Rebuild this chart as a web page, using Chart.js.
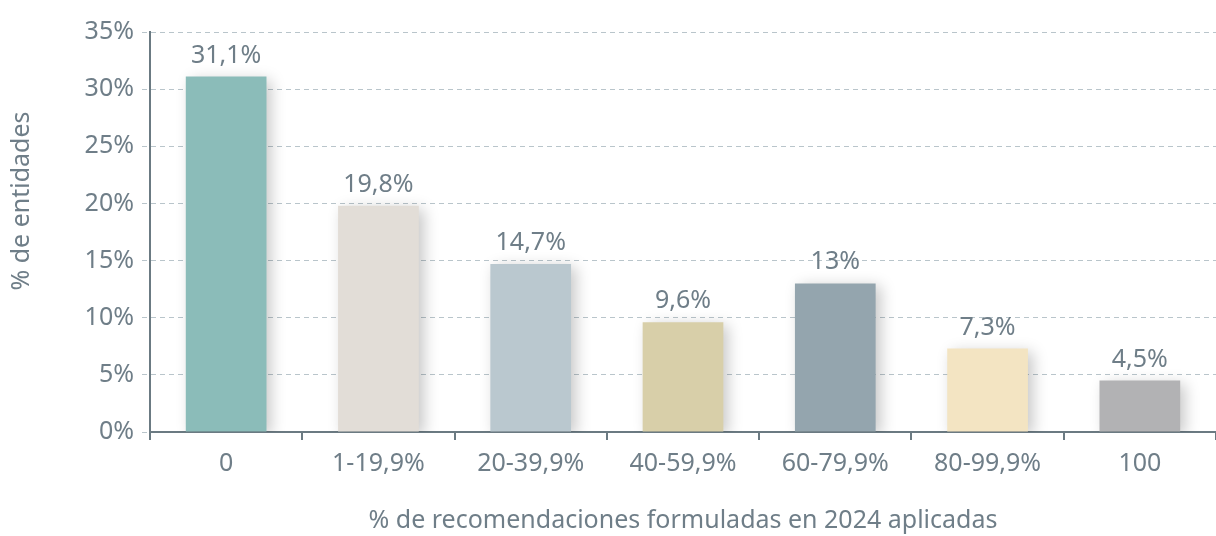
<!DOCTYPE html>
<html>
<head>
<meta charset="utf-8">
<script src="https://cdn.jsdelivr.net/npm/chart.js@4/dist/chart.umd.min.js"></script>
<style>
  html, body { margin: 0; padding: 0; background: #fff; }
  #wrap { width: 1216px; height: 536px; position: relative; }
</style>
</head>
<body>
<div id="wrap"><canvas id="chart"></canvas></div>
<script>
const categories = ["0", "1-19,9%", "20-39,9%", "40-59,9%", "60-79,9%", "80-99,9%", "100"];
const values = [31.1, 19.8, 14.7, 9.6, 13, 7.3, 4.5];
const barColors = ["#8bbcb9", "#e2ddd7", "#bac8cf", "#d8cfa9", "#94a5ae", "#f3e4c2", "#b2b2b4"];
const yTitle = "% de entidades";
const xTitle = "% de recomendaciones formuladas en 2024 aplicadas";

const textColor = "#6f7e88";
const axisColor = "#6b7a82";
const gridColor = "#b9c5cb";
const fontFamily = "'Noto Sans', 'Open Sans', sans-serif";
const fontSize = 25;

const fmt = (v) => String(v).replace(".", ",") + "%";

// soft drop shadow behind the bars
const barShadow = {
  id: "barShadow",
  beforeDatasetDraw(chart) {
    const ctx = chart.ctx;
    ctx.save();
    ctx.shadowColor = "rgba(0,0,0,0.22)";
    ctx.shadowBlur = 14;
    ctx.shadowOffsetX = 5;
    ctx.shadowOffsetY = 3;
  },
  afterDatasetDraw(chart) {
    chart.ctx.restore();
  }
};

// value labels above each bar
const valueLabels = {
  id: "valueLabels",
  afterDatasetsDraw(chart) {
    const ctx = chart.ctx;
    const meta = chart.getDatasetMeta(0);
    ctx.save();
    ctx.fillStyle = textColor;
    ctx.font = fontSize + "px " + fontFamily;
    ctx.textAlign = "center";
    ctx.textBaseline = "alphabetic";
    meta.data.forEach((bar, i) => {
      ctx.fillText(fmt(values[i]), bar.x, bar.y - 14);
    });
    ctx.restore();
  }
};

// vertical axis title, sitting a little above the plot's middle
const sideTitle = {
  id: "sideTitle",
  afterDraw(chart) {
    const ctx = chart.ctx;
    const area = chart.chartArea;
    ctx.save();
    ctx.translate(22, area.top + (area.bottom - area.top) / 2 - 31);
    ctx.rotate(-Math.PI / 2);
    ctx.fillStyle = textColor;
    ctx.font = fontSize + "px " + fontFamily;
    ctx.textAlign = "center";
    ctx.textBaseline = "middle";
    ctx.fillText(yTitle, 0, 0);
    ctx.restore();
  }
};

new Chart(document.getElementById("chart"), {
  type: "bar",
  data: {
    labels: categories,
    datasets: [{
      data: values,
      backgroundColor: barColors,
      borderWidth: 0,
      barPercentage: 0.53,
      categoryPercentage: 1
    }]
  },
  options: {
    responsive: true,
    maintainAspectRatio: false,
    animation: false,
    layout: { padding: { top: 32, right: 0, left: 0, bottom: 0 } },
    plugins: {
      legend: { display: false },
      tooltip: { enabled: false }
    },
    scales: {
      x: {
        afterFit(scale) { scale.height = 104; },
        border: { color: axisColor, width: 2 },
        grid: {
          offset: true,
          drawOnChartArea: false,
          drawTicks: true,
          tickLength: 8,
          color: axisColor,
          lineWidth: 2
        },
        ticks: {
          color: textColor,
          font: { family: fontFamily, size: fontSize },
          padding: 9
        },
        title: {
          display: true,
          text: xTitle,
          color: textColor,
          font: { family: fontFamily, size: fontSize },
          padding: { top: 20, bottom: 0 }
        }
      },
      y: {
        min: 0,
        max: 35,
        afterFit(scale) { scale.width = 150; },
        border: { color: axisColor, width: 2, dash: [5, 4] },
        grid: {
          color: gridColor,
          lineWidth: 1,
          tickBorderDash: [5, 4],
          tickLength: 8,
          drawTicks: true
        },
        ticks: {
          stepSize: 5,
          color: textColor,
          font: { family: fontFamily, size: fontSize },
          padding: 8,
          callback: (v) => v + "%"
        }
      }
    }
  },
  plugins: [barShadow, valueLabels, sideTitle]
});
</script>
</body>
</html>
